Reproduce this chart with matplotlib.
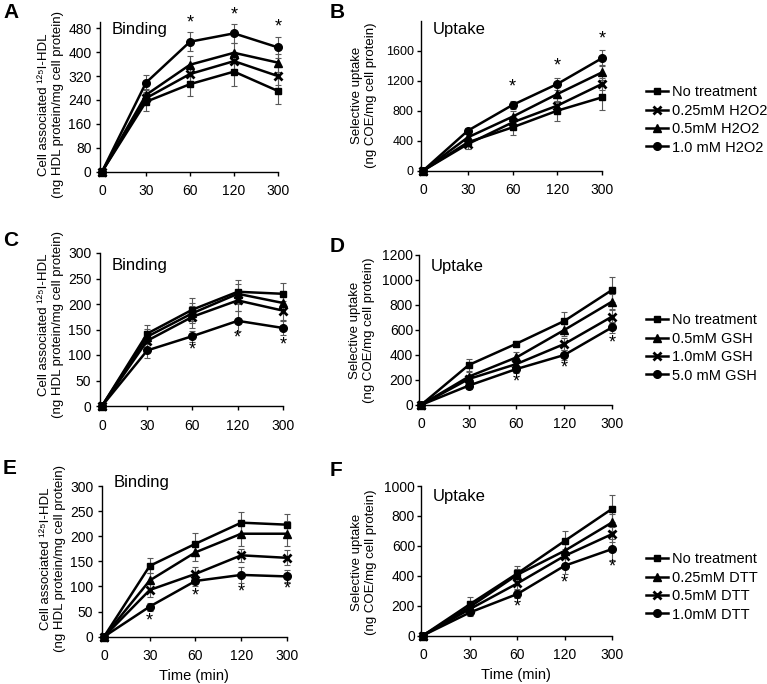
import numpy as np
import matplotlib
matplotlib.use("Agg")
import matplotlib.pyplot as plt

plt.rcParams['font.family'] = ['Liberation Sans', 'DejaVu Sans']

# --- data ---
times = ['0', '30', '60', '120', '300']

# A: binding, H2O2
a_none = [0, 234, 293, 335, 270]
a_025 = [0, 246, 327, 370, 320]
a_05 = [0, 257, 358, 398, 365]
a_10 = [0, 298, 435, 463, 416]
a_none_err = [0, 30, 39, 48, 45]
a_025_err = [0, 20, 25, 30, 30]
a_05_err = [0, 20, 30, 32, 30]
a_10_err = [0, 25, 31, 31, 36]
a_star_x = [2, 3, 4]
a_star_y = [499, 526, 483]

# B: uptake, H2O2
b_none = [0, 378, 578, 800, 978]
b_025 = [0, 355, 644, 867, 1156]
b_05 = [0, 444, 720, 1022, 1311]
b_10 = [0, 533, 876, 1156, 1500]
b_none_err = [0, 40, 98, 133, 165]
b_025_err = [0, 66, 80, 100, 80]
b_05_err = [0, 50, 70, 100, 100]
b_10_err = [0, 30, 57, 75, 110]
b_star_x = [2, 3, 4]
b_star_y = [1112, 1396, 1751]
b_labels = ['No treatment', '0.25mM H2O2', '0.5mM H2O2', '1.0 mM H2O2']

# C: binding, GSH
c_none = [0, 142, 189, 224, 220]
c_05 = [0, 136, 182, 220, 202]
c_10 = [0, 128, 175, 207, 187]
c_50 = [0, 109, 137, 167, 153]
c_none_err = [0, 17, 22, 23, 22]
c_05_err = [0, 15, 20, 20, 20]
c_10_err = [0, 15, 22, 20, 18]
c_50_err = [0, 15, 11, 20, 14]
c_star_x = [2, 3, 4]
c_star_y = [109, 133, 120]

# D: uptake, GSH
d_none = [0, 320, 491, 672, 920]
d_05 = [0, 227, 381, 600, 827]
d_10 = [0, 208, 328, 488, 707]
d_50 = [0, 155, 288, 400, 621]
d_none_err = [0, 45, 20, 70, 100]
d_05_err = [0, 40, 43, 50, 60]
d_10_err = [0, 30, 40, 45, 50]
d_50_err = [0, 30, 30, 40, 45]
d_star_x = [2, 3, 4]
d_star_y = [187, 293, 499]
d_labels = ['No treatment', '0.5mM GSH', '1.0mM GSH', '5.0 mM GSH']

# E: binding, DTT
e_none = [0, 141, 185, 227, 223]
e_025 = [0, 112, 168, 205, 205]
e_05 = [0, 93, 125, 162, 157]
e_10 = [0, 60, 111, 123, 120]
e_none_err = [0, 15, 22, 21, 21]
e_025_err = [0, 15, 18, 25, 25]
e_05_err = [0, 13, 13, 13, 15]
e_10_err = [0, 8, 10, 16, 12]
e_star_x = [1, 2, 3, 4]
e_star_y = [32, 81, 90, 95]

# F: uptake, DTT
f_none = [0, 211, 416, 633, 847]
f_025 = [0, 193, 407, 567, 756]
f_05 = [0, 178, 349, 533, 678]
f_10 = [0, 155, 278, 467, 578]
f_none_err = [0, 45, 50, 67, 91]
f_025_err = [0, 35, 40, 50, 60]
f_05_err = [0, 30, 35, 45, 50]
f_10_err = [0, 25, 25, 55, 70]
f_star_x = [2, 3, 4]
f_star_y = [189, 349, 455]
f_labels = ['No treatment', '0.25mM DTT', '0.5mM DTT', '1.0mM DTT']

W, H = 767, 684
fig = plt.figure(figsize=(W / 100, H / 100), dpi=100)


def px_axes(left, right, top, bottom):
    return fig.add_axes([left / W, 1 - bottom / H, (right - left) / W, (bottom - top) / H])


MK = {'s': dict(marker='s', markersize=5),
      'x': dict(marker='x', markersize=6, markeredgewidth=2),
      '^': dict(marker='^', markersize=6),
      'o': dict(marker='o', markersize=5.5)}


def draw(ax, series, errs, marks, ymax, ystep, ylabel, lab_x, lab_y, title, title_y,
         star_x, star_y, labels=None, tsize=10, ypad=3):
    x = np.arange(len(times))
    lines = []
    for y, e, m, lab in zip(series, errs, marks, labels or [None] * 4):
        ax.errorbar(x, y, yerr=e, fmt='none', ecolor='0.35', elinewidth=0.8,
                    capsize=2.5, capthick=0.8, clip_on=False, zorder=2)
        ln, = ax.plot(x, y, color='black', lw=1.8, clip_on=False, zorder=3,
                      label=lab, **MK[m])
        lines.append(ln)
    for sx, sy in zip(star_x, star_y):
        ax.text(sx, sy, '*', ha='center', va='center', fontsize=13, clip_on=False)
    ax.set_xlim(-0.05, 4.0)
    ax.set_ylim(0, ymax)
    ax.set_xticks(x)
    ax.set_xticklabels(times)
    ax.set_yticks(np.arange(0, ymax + 1, ystep))
    for s in ['top', 'right']:
        ax.spines[s].set_visible(False)
    for s in ['left', 'bottom']:
        ax.spines[s].set_linewidth(1.0)
    ax.tick_params(direction='out', length=3, width=1, labelsize=10)
    ax.tick_params(axis='x', pad=6)
    ax.tick_params(axis='y', pad=ypad, labelsize=tsize)
    ax.set_ylabel(ylabel, fontsize=9.5, linespacing=1.15)
    ax.yaxis.set_label_coords(-lab_x / (ax.get_position().width * W), lab_y)
    ax.text(0.065, title_y, title, transform=ax.transAxes, fontsize=12,
            ha='left', va='center')
    return lines


bind_label = 'Cell associated \u00b9\u00b2\u2075I-HDL\n(ng HDL protein/mg cell protein)'
upt_label = 'Selective uptake\n(ng COE/mg cell protein)'

axA = px_axes(99.8, 278, 22.3, 171.7)
draw(axA, [a_none, a_025, a_05, a_10], [a_none_err, a_025_err, a_05_err, a_10_err],
     ['s', 'x', '^', 'o'], 500, 80, bind_label, 36, 0.45, 'Binding', 0.95, a_star_x, a_star_y)
axA.set_ylim(0, 500)
axA.set_yticks(np.arange(0, 481, 80))

axB = px_axes(420.8, 602, 20.7, 170.7)
hB = draw(axB, [b_none, b_025, b_05, b_10], [b_none_err, b_025_err, b_05_err, b_10_err],
          ['s', 'x', '^', 'o'], 2000, 400, upt_label, 44, 0.5, 'Uptake', 0.94,
          b_star_x, b_star_y, b_labels, tsize=9, ypad=2)
axB.set_yticks(np.arange(0, 1601, 400))

axC = px_axes(99.7, 283, 253, 406)
draw(axC, [c_none, c_05, c_10, c_50], [c_none_err, c_05_err, c_10_err, c_50_err],
     ['s', '^', 'x', 'o'], 300, 50, bind_label, 36, 0.53, 'Binding', 0.92, c_star_x, c_star_y)

axD = px_axes(418.6, 612, 255, 405)
hD = draw(axD, [d_none, d_05, d_10, d_50], [d_none_err, d_05_err, d_10_err, d_50_err],
          ['s', '^', 'x', 'o'], 1200, 200, upt_label, 44, 0.5, 'Uptake', 0.92,
          d_star_x, d_star_y, d_labels, ypad=1)

axE = px_axes(101.7, 287, 486, 636.7)
draw(axE, [e_none, e_025, e_05, e_10], [e_none_err, e_025_err, e_05_err, e_10_err],
     ['s', '^', 'x', 'o'], 300, 50, bind_label, 36, 0.52, 'Binding', 1.02, e_star_x, e_star_y)
axE.set_xlabel('Time (min)', fontsize=10.5, labelpad=4)

axF = px_axes(420.6, 612, 486, 635.5)
hF = draw(axF, [f_none, f_025, f_05, f_10], [f_none_err, f_025_err, f_05_err, f_10_err],
          ['s', '^', 'x', 'o'], 1000, 200, upt_label, 44, 0.49, 'Uptake', 0.93,
          f_star_x, f_star_y, f_labels, ypad=1)
axF.set_xlabel('Time (min)', fontsize=10.5, labelpad=4)

# legends to the right of the uptake panels
for handles, ycen in [(hB, 120), (hD, 348), (hF, 587)]:
    fig.legend(handles=handles, loc='center left', bbox_to_anchor=(646 / W, 1 - ycen / H),
               frameon=False, fontsize=10.5, handlelength=1.5, handletextpad=0.3,
               labelspacing=0.3, borderpad=0, borderaxespad=0)

# panel letters
for letter, px, py in [('A', 3, 13), ('B', 330, 13), ('C', 3, 241), ('D', 330, 246),
                       ('E', 3, 469), ('F', 330, 470)]:
    fig.text(px / W, 1 - py / H, letter, fontsize=15, fontweight='bold',
             ha='left', va='center')

fig.savefig('out.png', dpi=100)
